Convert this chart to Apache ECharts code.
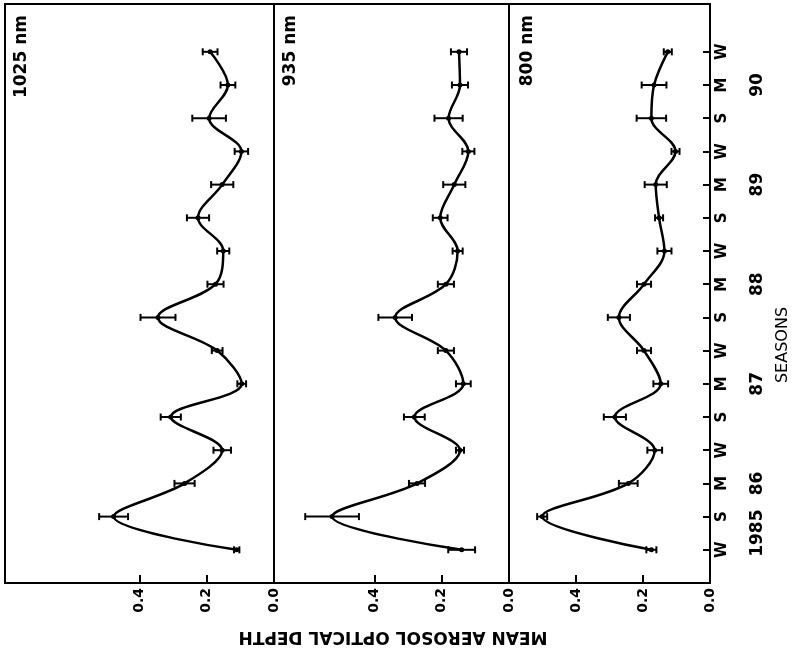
<!DOCTYPE html>
<html>
<head>
<meta charset="utf-8">
<script src="https://cdn.jsdelivr.net/npm/echarts@6/dist/echarts.min.js"></script>
<style>
html, body { margin: 0; padding: 0; background: #fff; }
#chart { width: 795px; height: 658px; }
</style>
</head>
<body>
<div id="chart"></div>
<script>
// season axis (bottom = winter 1985, top = winter 1990)
const seasons = ['W', 'S', 'M', 'W', 'S', 'M', 'W', 'S', 'M', 'W', 'S', 'M', 'W', 'S', 'M', 'W'];
const seasonIdx = seasons.map((s, i) => i);
const yearPos = [0.5, 2, 5, 8, 11, 14];
const yearLabels = ['1985', '86', '87', '88', '89', '90'];
const depthTicks = [0, 0.2, 0.4];

// mean aerosol optical depth per season, and error bar half widths
const depth1025 = [0.111, 0.477, 0.266, 0.154, 0.307, 0.096, 0.169, 0.345, 0.174, 0.151, 0.226, 0.154, 0.097, 0.193, 0.137, 0.190];
const err1025 = [0.008, 0.043, 0.030, 0.026, 0.030, 0.013, 0.016, 0.052, 0.024, 0.018, 0.033, 0.033, 0.020, 0.050, 0.022, 0.022];
const depth935 = [0.141, 0.527, 0.274, 0.146, 0.282, 0.136, 0.188, 0.339, 0.188, 0.153, 0.205, 0.163, 0.121, 0.180, 0.146, 0.149];
const err935 = [0.040, 0.080, 0.024, 0.012, 0.031, 0.022, 0.024, 0.050, 0.024, 0.015, 0.022, 0.033, 0.018, 0.042, 0.024, 0.024];
const depth800 = [0.175, 0.501, 0.244, 0.165, 0.284, 0.147, 0.197, 0.272, 0.197, 0.136, 0.152, 0.162, 0.103, 0.175, 0.167, 0.126];
const err800 = [0.015, 0.015, 0.028, 0.022, 0.033, 0.022, 0.021, 0.033, 0.021, 0.021, 0.012, 0.033, 0.012, 0.044, 0.037, 0.012];

const panelNames = ['1025 nm', '935 nm', '800 nm'];
const panelMax = [0.8, 0.7, 0.6];
const panelDepth = [depth1025, depth935, depth800];
const panelErr = [err1025, err935, err800];

const chart = echarts.init(document.getElementById('chart'));
const black = '#000';
const font = 'DejaVu Sans';

const grids = [
  { left: 5, top: 4, width: 269, height: 579 },
  { left: 274, top: 4, width: 235, height: 579 },
  { left: 509, top: 4, width: 201, height: 579 }
].map(g => Object.assign(g, { show: true, borderColor: black, borderWidth: 2 }));

const xAxes = panelMax.map((mx, i) => ({
  gridIndex: i,
  type: 'value',
  inverse: true,
  min: 0,
  max: mx,
  interval: 0.1,
  axisLine: { onZero: false, lineStyle: { color: black, width: 2 } },
  axisTick: { inside: true, length: 8, customValues: [0.2, 0.4], lineStyle: { color: black, width: 2 } },
  axisLabel: {
    customValues: depthTicks, rotate: 90, margin: 5,
    formatter: v => v.toFixed(1),
    color: black, fontFamily: font, fontWeight: 'bold', fontSize: 14
  },
  splitLine: { show: false }
}));

const seasonRange = { type: 'value', min: -1, max: 16.44, interval: 1, splitLine: { show: false } };
const yAxes = [
  Object.assign({ gridIndex: 0, show: false }, seasonRange),
  Object.assign({ gridIndex: 1, show: false }, seasonRange),
  Object.assign({
    gridIndex: 2,
    position: 'right',
    axisLine: { onZero: false, lineStyle: { color: black, width: 2 } },
    axisTick: { inside: true, length: 7, customValues: seasonIdx, lineStyle: { color: black, width: 2 } },
    axisLabel: {
      customValues: seasonIdx, rotate: 90, margin: 5,
      formatter: v => seasons[Math.round(v)],
      color: black, fontFamily: font, fontWeight: 'bold', fontSize: 15
    }
  }, seasonRange),
  Object.assign({
    gridIndex: 2,
    position: 'right',
    axisLine: { show: false, onZero: false },
    axisTick: { show: false },
    axisLabel: {
      customValues: yearPos, rotate: 90, margin: 39,
      formatter: v => yearLabels[yearPos.indexOf(v)],
      color: black, fontFamily: font, fontWeight: 'bold', fontSize: 17
    }
  }, seasonRange)
];

function errorBars(params, api) {
  const v = api.value(0), e = api.value(1), k = api.value(2);
  const a = api.coord([v - e, k]);
  const b = api.coord([v + e, k]);
  const st = { stroke: black, lineWidth: 2 };
  return {
    type: 'group',
    children: [
      { type: 'line', shape: { x1: a[0], y1: a[1], x2: b[0], y2: b[1] }, style: st },
      { type: 'line', shape: { x1: a[0], y1: a[1] - 3.5, x2: a[0], y2: a[1] + 3.5 }, style: st },
      { type: 'line', shape: { x1: b[0], y1: b[1] - 3.5, x2: b[0], y2: b[1] + 3.5 }, style: st }
    ]
  };
}

const series = [];
panelDepth.forEach((vals, i) => {
  series.push({
    type: 'line',
    xAxisIndex: i, yAxisIndex: i,
    data: vals.map((v, k) => [v, k]),
    smooth: 0.35,
    symbol: 'circle', symbolSize: 5,
    lineStyle: { color: black, width: 2.5 },
    itemStyle: { color: black },
    animation: false
  });
  series.push({
    type: 'custom',
    xAxisIndex: i, yAxisIndex: i,
    data: vals.map((v, k) => [v, panelErr[i][k], k]),
    encode: { x: 0, y: 2 },
    renderItem: errorBars,
    animation: false
  });
});

const panelLabelX = [22, 291, 528];
const graphic = panelNames.map((name, i) => ({
  type: 'text',
  x: panelLabelX[i], y: 15,
  rotation: Math.PI / 2,
  style: { text: name, fill: black, font: 'bold 17px "DejaVu Sans"', align: 'right', verticalAlign: 'middle' }
}));
graphic.push({
  type: 'text', x: 783, y: 345, rotation: Math.PI / 2,
  style: { text: 'SEASONS', fill: black, font: '16px "DejaVu Sans"', align: 'center', verticalAlign: 'middle' }
});
graphic.push({
  type: 'text', x: 393, y: 636, rotation: Math.PI,
  style: { text: 'MEAN AEROSOL OPTICAL DEPTH', fill: black, font: 'bold 17px "DejaVu Sans"', align: 'center', verticalAlign: 'middle' }
});

chart.setOption({
  animation: false,
  grid: grids,
  xAxis: xAxes,
  yAxis: yAxes,
  series: series,
  graphic: graphic
});
</script>
</body>
</html>
